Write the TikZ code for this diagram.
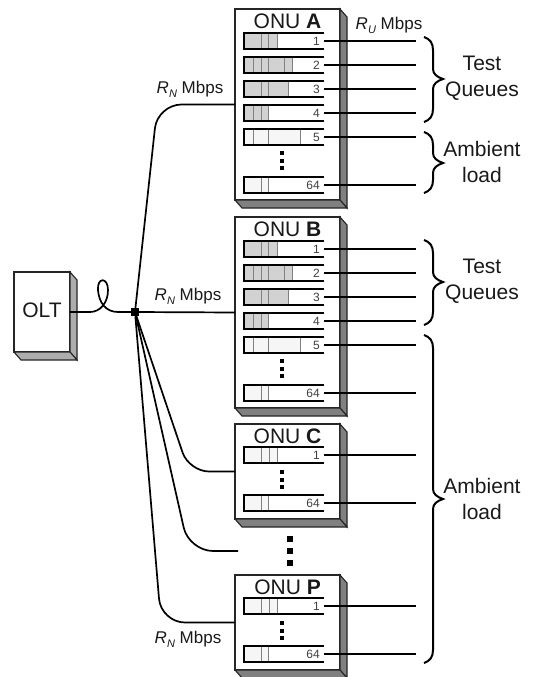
\documentclass[tikz,border=0pt]{standalone}
\usepackage{fontspec}
\setmainfont{Liberation Sans}
\definecolor{qfull}{HTML}{D2D2D2}
\definecolor{qlight}{HTML}{F6F6F6}
\newcommand{\rate}[1]{{\itshape R}\raisebox{-4pt}{\fontsize{11}{11}\selectfont\itshape #1}~Mbps}
\newcommand{\slab}[4]{%
	\draw[#4] (#1.north east) -- ++(7,8) -- ++(0,#3) -- ++(-7,-8) -- cycle;
	\draw[#4] (#1.south west) -- ++(7,8) -- ++(#2,0) -- ++(-7,-8) -- cycle;
}
\newcommand{\onubox}[4]{%
	\node[onu,minimum height=#3] (onu#1) at (287.5,#2+#3/2) {};
	\slab{onu#1}{105}{#3}{onuside}
	\node[title] (title#1) at (287.5,#2+12) {ONU \textbf{#4}};
}
\newcommand{\qrow}[6]{%
	\fill[#4] (244,#2-8) rectangle (#5,#2+8);
	\foreach \dv in {#6} \draw[qdiv] (\dv,#2-8) -- (\dv,#2+8);
	\draw[qrail] (324,#2-8) -- (244,#2-8) -- (244,#2+8) -- (324,#2+8);
	\node[qnum] (#1) at (324,#2) {#3};
	\coordinate (#1end) at (416,#2);
	\draw[fibre] (#1) -- (#1end);
}
\newcommand{\qdots}[3]{\foreach \k in {0,1,2} \fill (#1-#3/2,#2+\k*#3*2-#3/2) rectangle ++(#3,#3);}
\newcommand{\testrows}[2]{%
	\qrow{#1one}{#2+41}{1}{qfull}{277}{261,268,277}
	\qrow{#1two}{#2+65}{2}{qfull}{292}{253,261,268,284,292}
	\qrow{#1three}{#2+89}{3}{qfull}{288}{261,268,288}
	\qrow{#1four}{#2+113}{4}{qfull}{268}{253,261,268}
	\qrow{#1five}{#2+137}{5}{qlight}{300}{253,268,300}
	\qdots{282}{#2+153}{3.8}
	\qrow{#1last}{#2+185}{64}{qlight}{268}{261,268}
}
\newcommand{\qbrace}[3]{%
	\draw[brace] (424,#1) .. controls (430,#1+2) and (433,#1+6) .. (433,#1+13) -- (433,#2-10)
	.. controls (433,#2-5) and (437,#2-2) .. (443,#2) .. controls (437,#2+2) and (433,#2+5) .. (433,#2+10)
	-- (433,#3-13) .. controls (433,#3-6) and (430,#3-2) .. (424,#3);
}
\begin{document}
\begin{tikzpicture}[x=1pt,y=-1pt,
		onu/.style={draw=black!85,fill=white,line width=1.1pt,minimum width=105,outer sep=0pt,inner sep=0pt},
		onuside/.style={draw=black!85,fill=black!50,line width=1.1pt},
		oltside/.style={draw=black!85,fill=black!32,line width=1.1pt},
		title/.style={inner sep=0pt,font=\fontsize{21}{25}\selectfont,text=black!90},
		qnum/.style={anchor=east,inner sep=4pt,font=\fontsize{12}{14}\selectfont,text=black!75},
		qrail/.style={black,line width=1.7pt},
		qdiv/.style={black!50,line width=1pt},
		fibre/.style={black,line width=1.7pt},
		brace/.style={black,line width=2pt},
		side/.style={inner sep=0pt,align=center,font=\fontsize{21}{26}\selectfont,text=black!90},
		rate/.style={inner sep=0pt,font=\fontsize{17}{20}\selectfont,text=black!90}]
	\useasboundingbox (0,0) rectangle (534,677);
	% OLT and splitter
	\node[onu,minimum width=56,minimum height=80] (olt) at (42,312) {};
	\slab{olt}{56}{80}{oltside}
	\node[title] (oltname) at (42,310) {OLT};
	\node[fill=black,inner sep=0pt,minimum size=8pt] (split) at (135,312) {};
	\draw[fibre] (olt.east) -- (90,312) .. controls (100,312) and (108,303) .. (108,290)
	.. controls (108,277) and (97,277) .. (98,290) .. controls (99,303) and (106,312) .. (118,312) -- (split);
	% ONUs
	\onubox{A}{9}{191}{A}
	\testrows{a}{0}
	\onubox{B}{217}{191}{B}
	\testrows{b}{208}
	\onubox{C}{424}{95}{C}
	\qrow{cone}{455}{1}{qlight}{277}{261,269,277}
	\qdots{282}{472}{3.8}
	\qrow{clast}{503}{64}{qlight}{268}{261,268}
	\onubox{P}{575}{95}{P}
	\qrow{pone}{606}{1}{qlight}{277}{261,269,277}
	\qdots{282}{623}{3.8}
	\qrow{plast}{654}{64}{qlight}{268}{261,268}
	% feeders
	\coordinate (more) at (238,551);
	\draw[fibre,rounded corners=24pt] (split) -- (157.5,104.5) -- (onuA.west);
	\draw[fibre] (split) -- (onuB.west);
	\draw[fibre,rounded corners=20pt] (split) -- (189,471.5) -- (onuC.west);
	\draw[fibre,rounded corners=24pt] (split) -- (189,551) -- (more);
	\draw[fibre,rounded corners=24pt] (split) -- (161,622.5) -- (onuP.west);
	\qdots{290}{539}{6}
	% labels
	\node[rate] (rateA) at (190,89) {\rate{N}};
	\node[rate] (rateB) at (188,296) {\rate{N}};
	\node[rate] (rateP) at (188,639) {\rate{N}};
	\node[rate] (rateU) at (389,25) {\rate{U}};
	\qbrace{37}{79}{122}
	\qbrace{132}{163}{193}
	\qbrace{240}{282}{325}
	\qbrace{335}{499}{663}
	\node[side] (testA) at (482,78.5) {Test\\Queues};
	\node[side] (ambA) at (482,162) {Ambient\\load};
	\node[side] (testB) at (482,281.5) {Test\\Queues};
	\node[side] (ambB) at (482,498.5) {Ambient\\load};
\end{tikzpicture}
\end{document}
